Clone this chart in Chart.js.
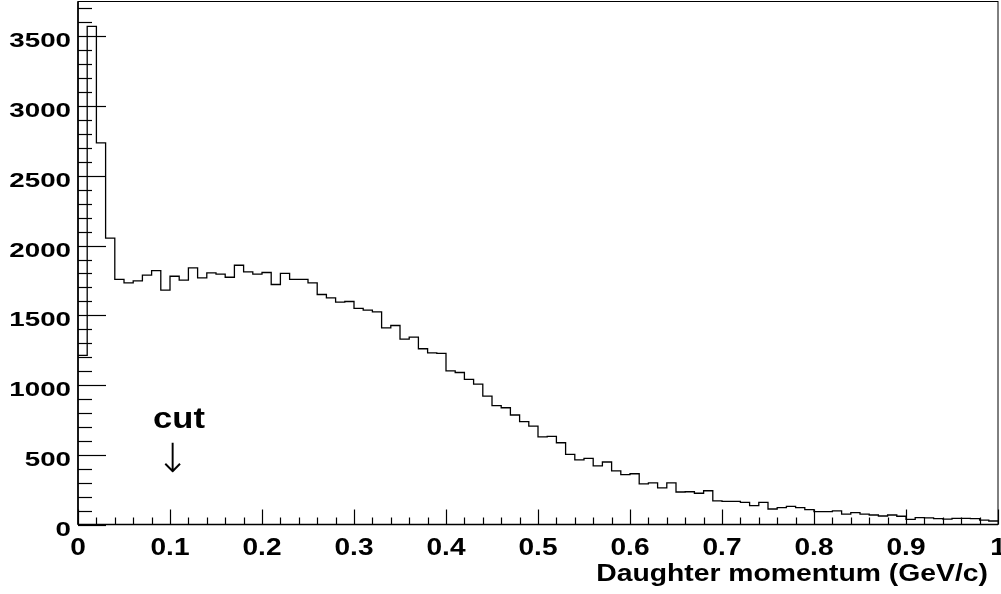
<!DOCTYPE html>
<html lang="en">
<head>
  <meta charset="UTF-8" />
  <title>Daughter momentum</title>
  <script src="https://cdn.jsdelivr.net/npm/chart.js"></script>
  <style>
    html, body { margin: 0; padding: 0; background: #fff; }
    #wrap { width: 1001px; height: 594px; }
  </style>
</head>
<body>
  <div id="wrap"><canvas id="momentumChart" width="1001" height="594"></canvas></div>

  <script>
    // 100 bins, 0.01 GeV/c wide, from 0 to 1 GeV/c
    const binWidth = 0.01;
    const counts = [
      1212, 3572, 2736, 2053, 1757, 1733, 1747, 1788, 1821, 1680,
      1780, 1752, 1840, 1768, 1804, 1795, 1773, 1859, 1811, 1795,
      1807, 1721, 1800, 1757, 1757, 1733, 1649, 1625, 1594, 1599,
      1549, 1537, 1525, 1410, 1427, 1329, 1343, 1260, 1231, 1227,
      1102, 1090, 1040, 1007,  920,  852,  837,  785,  737,  706,
       629,  632,  586,  503,  464,  474,  421,  448,  385,  357,
       364,  292,  299,  262,  299,  233,  235,  224,  242,  170,
       166,  166,  159,  135,  159,  111,  121,  130,  121,  106,
        92,   92,   97,   75,   85,   75,   68,   61,   68,   59,
        37,   49,   47,   42,   39,   44,   44,   42,   32,   25
    ];
    const xTickLabels = ["0", "0.1", "0.2", "0.3", "0.4", "0.5", "0.6", "0.7", "0.8", "0.9", "1"];
    const yTickLabels = ["0", "500", "1000", "1500", "2000", "2500", "3000", "3500"];
    const yMax = 3750;

    // step outline: left edge of each bin, plus the closing edge at 1
    const points = counts.map((c, i) => ({ x: +(i * binWidth).toFixed(2), y: c }));
    points.push({ x: 1, y: counts[counts.length - 1] });

    // text in this style is a bit wider than the font, so scale it sideways
    function wideText(ctx, text, px, py, sx, align) {
      ctx.save();
      ctx.translate(px, py);
      ctx.scale(sx, 1);
      ctx.textAlign = align;
      ctx.fillText(text, 0, 0);
      ctx.restore();
    }

    function tick(ctx, x1, y1, x2, y2) {
      ctx.beginPath();
      ctx.moveTo(x1, y1);
      ctx.lineTo(x2, y2);
      ctx.stroke();
    }

    // frame, inside ticks and labels
    const rootFrame = {
      id: "rootFrame",
      afterDraw(chart) {
        const { ctx, chartArea: a } = chart;
        const x = chart.scales.x, y = chart.scales.y;
        ctx.save();
        ctx.strokeStyle = "#000";
        ctx.fillStyle = "#000";

        ctx.lineWidth = 1;
        ctx.strokeRect(a.left, a.top, a.right - a.left, a.bottom - a.top);
        ctx.lineWidth = 1.6;
        tick(ctx, a.left, a.top, a.left, a.bottom);
        tick(ctx, a.left, a.bottom, a.right, a.bottom);

        ctx.lineWidth = 1.2;
        for (let i = 0; i <= 50; i++) {
          const px = Math.round(x.getPixelForValue(i * 0.02)) + 0.5;
          tick(ctx, px, a.bottom, px, a.bottom - (i % 5 === 0 ? 15 : 7));
        }
        for (let v = 0; v <= 3700; v += 100) {
          const py = Math.round(y.getPixelForValue(v)) + 0.5;
          tick(ctx, a.left, py, a.left + (v % 500 === 0 ? 28 : 14), py);
        }

        ctx.textBaseline = "alphabetic";
        ctx.font = "bold 21px 'Liberation Sans', Arial, sans-serif";
        yTickLabels.forEach(t => {
          wideText(ctx, t, 71, y.getPixelForValue(+t) + 11, 1.32, "right");
        });

        ctx.font = "bold 24px 'Liberation Sans', Arial, sans-serif";
        xTickLabels.forEach(t => {
          wideText(ctx, t, x.getPixelForValue(+t), 555, 1.17, "center");
        });

        ctx.font = "bold 24px 'Liberation Sans', Arial, sans-serif";
        wideText(ctx, "Daughter momentum (GeV/c)", 988, 581, 1.18, "right");

        ctx.font = "bold 29px 'Liberation Sans', Arial, sans-serif";
        wideText(ctx, "cut", 179, 428, 1.19, "center");

        // thin down arrow under the label
        ctx.font = "200 40px 'DejaVu Sans', sans-serif";
        ctx.textBaseline = "middle";
        wideText(ctx, "\u2193", 172.5, 462, 1, "center");

        ctx.restore();
      }
    };

    document.addEventListener("DOMContentLoaded", () => {
      const ctx = document.getElementById("momentumChart").getContext("2d");
      window.momentumChart = new Chart(ctx, {
        type: "line",
        data: {
          datasets: [{
            data: points,
            stepped: true,
            borderColor: "#000",
            borderWidth: 1.3,
            pointRadius: 0,
            fill: false
          }]
        },
        options: {
          responsive: false,
          devicePixelRatio: 1,
          animation: false,
          layout: { padding: { left: 78, right: 3, top: 1.5, bottom: 69.5 } },
          plugins: { legend: { display: false }, tooltip: { enabled: false } },
          scales: {
            x: { type: "linear", min: 0, max: 1, display: false },
            y: { type: "linear", min: 0, max: yMax, display: false }
          }
        },
        plugins: [rootFrame]
      });
    });
  </script>
</body>
</html>
